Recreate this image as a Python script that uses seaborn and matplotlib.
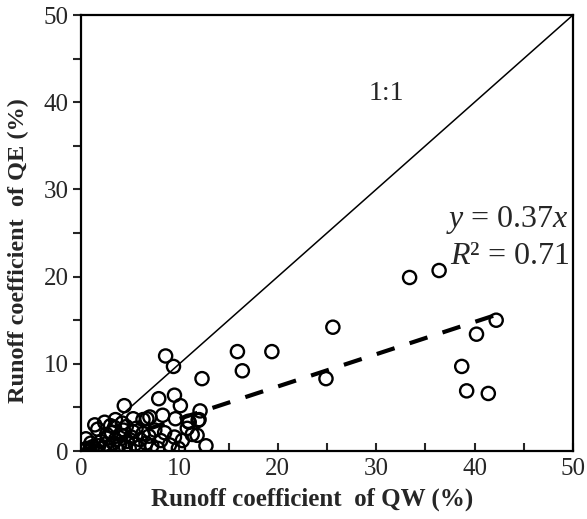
"""Runoff coefficient QE vs QW scatter with 1:1 line and regression."""
import matplotlib
matplotlib.use('Agg')
import matplotlib.pyplot as plt
import seaborn as sns
from matplotlib.ticker import MultipleLocator

# Runoff coefficients (%)
qw = [8.6, 9.4, 12.3, 15.9, 16.4, 19.4, 24.9, 25.6, 33.4, 36.4, 38.7, 39.2, 40.2, 41.4, 42.2,
      4.4, 7.9, 9.5, 10.1, 12.1, 8.3, 7.0, 6.7, 5.3, 6.3, 2.4, 3.5, 9.6, 10.9, 11.9,
      12.0, 1.4, 3.0, 4.2, 11.0, 11.8, 12.7,
      0.3, 0.6, 0.9, 1.2, 1.0, 1.5, 1.8, 2.0, 2.2, 2.5, 2.7, 2.9, 3.1, 3.3, 3.5, 3.7,
      3.9, 4.1, 4.3, 4.5, 4.7, 4.9, 5.1, 5.3, 5.5, 5.8, 6.0, 6.3, 6.6, 6.9, 7.2, 7.5,
      7.8, 8.1, 8.5, 9.0, 9.5, 9.9, 10.3, 10.8, 11.3, 0.5, 1.7, 2.6, 3.4, 4.6, 5.6]
qe = [10.9, 9.7, 8.3, 11.4, 9.2, 11.4, 8.3, 14.2, 19.9, 20.7, 9.7, 6.9, 13.4, 6.6, 15.0,
      5.2, 6.0, 6.4, 5.2, 4.6, 4.1, 3.9, 3.7, 3.7, 3.6, 3.3, 3.6, 3.7, 3.4, 3.5,
      3.6, 3.0, 2.9, 3.2, 3.3, 1.8, 0.6,
      0.1, 0.3, 0.2, 0.5, 0.9, 0.2, 0.6, 1.1, 0.3, 0.8, 1.5, 0.4, 2.1, 0.9, 1.3, 0.2,
      0.7, 1.8, 2.4, 0.5, 1.1, 0.3, 1.6, 2.2, 0.8, 0.4, 1.3, 2.0, 0.9, 1.7, 0.6, 2.4,
      0.3, 1.2, 2.1, 0.7, 1.6, 0.3, 1.2, 2.6, 1.9, 1.4, 2.5, 1.9, 2.7, 2.8, 2.6]

one_to_one = [0, 50]
fit_x = [0, 42.2]
slope = 0.37
fit_y = [slope * v for v in fit_x]

sns.set_theme(style='ticks')
plt.rcParams['font.family'] = ['Liberation Serif', 'DejaVu Serif']
plt.rcParams['mathtext.fontset'] = 'custom'
plt.rcParams['mathtext.rm'] = 'Liberation Serif'
plt.rcParams['mathtext.it'] = 'Liberation Serif:italic'

fig, ax = plt.subplots(figsize=(5.87, 5.19), dpi=100)
fig.subplots_adjust(left=0.138, right=0.976, top=0.971, bottom=0.131)

sns.lineplot(x=one_to_one, y=one_to_one, ax=ax, color='black', lw=1.1)
sns.lineplot(x=fit_x, y=fit_y, ax=ax, color='black', lw=3, dashes=False)
ax.lines[-1].set_dashes((4.5, 3.8))
sns.scatterplot(x=qw, y=qe, ax=ax, marker='o', s=90, facecolors='none',
                edgecolor='black', linewidth=1.7, zorder=3)

ax.set_xlim(0, 50)
ax.set_ylim(0, 50)
ax.xaxis.set_major_locator(MultipleLocator(10))
ax.xaxis.set_minor_locator(MultipleLocator(5))
ax.yaxis.set_major_locator(MultipleLocator(10))
ax.yaxis.set_minor_locator(MultipleLocator(5))
ax.tick_params(axis='x', which='both', direction='in', length=6, width=1.5,
               labelsize=18, pad=5)
ax.tick_params(axis='y', which='both', direction='out', length=6, width=1.5,
               labelsize=18, pad=3)
for s in ax.spines.values():
    s.set_linewidth(1.6)
    s.set_color('black')

ax.set_xlabel('Runoff coefficient  of QW (%)', fontsize=18, fontweight='bold')
ax.set_ylabel('Runoff coefficient  of QE (%)', fontsize=17.5, fontweight='bold')
ax.xaxis.set_label_coords(0.47, -0.085)
ax.yaxis.set_label_coords(-0.105, 0.46)

ax.text(31, 41, '1:1', fontsize=20, ha='center', va='center')
ax.text(49.6, 26.5, r'$y$ = 0.37$x$', fontsize=23, ha='right', va='center')
ax.text(49.6, 22.3, r'$R$² = 0.71', fontsize=23, ha='right', va='center')

plt.savefig('out.png', dpi=100)
plt.close()
